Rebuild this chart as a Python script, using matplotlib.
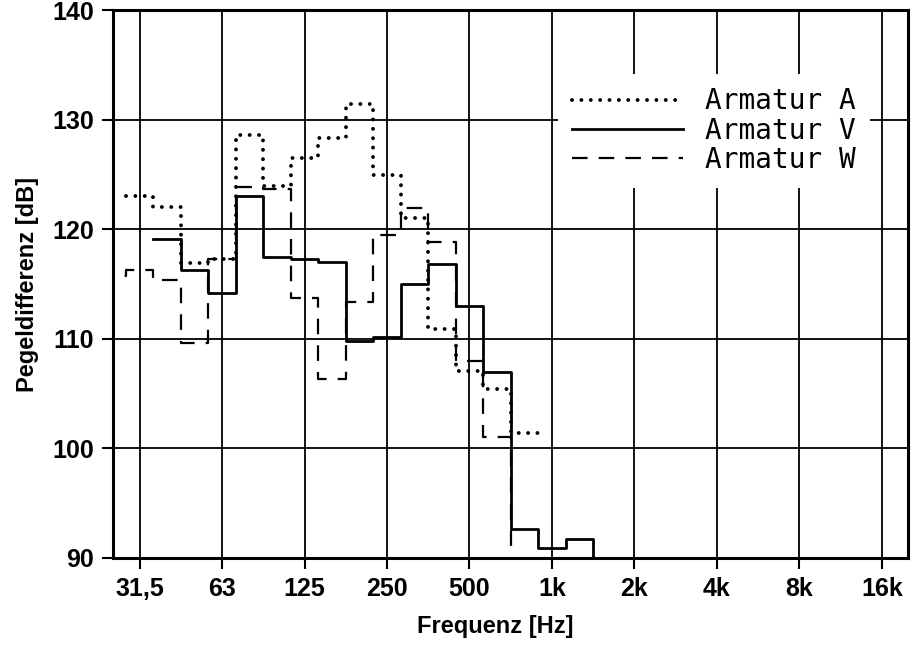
import numpy as np
import matplotlib.pyplot as plt

# Terzband-Mittenfrequenzen (nominal)
bands = [25, 31.5, 40, 50, 63, 80, 100, 125, 160, 200, 250, 315, 400, 500, 630, 800, 1000, 1250]

# Armatur A: 31,5 Hz .. 800 Hz
a_bands = bands[1:16]
a_vals = [123.0, 122.0, 116.9, 117.3, 128.6, 124.0, 126.5, 128.3, 131.4, 125.0,
          121.0, 110.9, 107.1, 105.4, 101.4]
a_end = 100.7

# Armatur V: 40 Hz .. 1250 Hz
v_bands = bands[2:18]
v_vals = [119.1, 116.3, 114.2, 123.0, 117.5, 117.3, 117.0, 109.8, 110.2, 115.0,
          116.8, 113.0, 107.0, 92.6, 90.9, 91.7]
v_end = 90.0

# Armatur W: 25 Hz .. 630 Hz
w_bands = bands[0:15]
w_vals = [115.7, 116.3, 115.4, 109.6, 117.3, 123.9, 123.7, 113.7, 106.3, 113.4,
          119.5, 121.9, 118.8, 108.0, 101.0]
w_end = 90.0

oct_ticks = [1000 * 2.0 ** k for k in range(-5, 5)]
oct_labels = ['31,5', '63', '125', '250', '500', '1k', '2k', '4k', '8k', '16k']


def steps(bnd, vals, end):
    # Bandkanten aus den Terzmitten, Treppe mit Abfall am Ende
    n = np.round(3 * np.log2(np.array(bnd) / 1000.0))
    edges = 1000 * 2.0 ** (np.append(n - 0.5, n[-1] + 0.5) / 3)
    x = np.append(edges, edges[-1])
    y = np.append(vals, [vals[-1], end])
    return x, y


plt.rcParams['font.family'] = ['Liberation Sans', 'DejaVu Sans']

fig = plt.figure(figsize=(9.12, 6.47), dpi=100)
ax = fig.add_axes([0.124, 0.138, 0.872, 0.846])

x, y = steps(a_bands, a_vals, a_end)
ax.step(x, y, where='post', color='black', lw=2.8, linestyle=(0, (0.01, 2.4)),
        dash_capstyle='round', label='Armatur A')
x, y = steps(v_bands, v_vals, v_end)
ax.step(x, y, where='post', color='black', lw=2.0, label='Armatur V')
x, y = steps(w_bands, w_vals, w_end)
ax.step(x, y, where='post', color='black', lw=1.6, linestyle=(0, (7, 5)),
        label='Armatur W')

ax.set_xscale('log', base=2)
ax.set_xlim(25, 20000)
ax.set_ylim(90, 140)
ax.set_xticks(oct_ticks)
ax.set_xticklabels(oct_labels)
ax.minorticks_off()
ax.set_yticks([90, 100, 110, 120, 130, 140])

ax.grid(True, color='black', lw=1.3)
ax.set_axisbelow(True)
for s in ax.spines.values():
    s.set_linewidth(2.2)
ax.tick_params(direction='out', length=8, width=1.5, labelsize=18, pad=6)
for lab in ax.get_xticklabels() + ax.get_yticklabels():
    lab.set_fontweight('bold')

ax.set_xlabel('Frequenz [Hz]', fontsize=17, fontweight='bold')
ax.xaxis.set_label_coords(0.48, -0.104)
ax.set_ylabel('Pegeldifferenz [dB]', fontsize=17, fontweight='bold', labelpad=9)

leg = ax.legend(loc='upper right', bbox_to_anchor=(0.969, 0.91),
                prop={'family': 'DejaVu Sans Mono', 'size': 20},
                frameon=True, fancybox=False, framealpha=1, borderpad=0.5,
                labelspacing=0.05, handlelength=4.0, handletextpad=0.8)
leg.get_frame().set_edgecolor('none')
leg.get_frame().set_facecolor('white')

fig.savefig('out.png', dpi=100)
